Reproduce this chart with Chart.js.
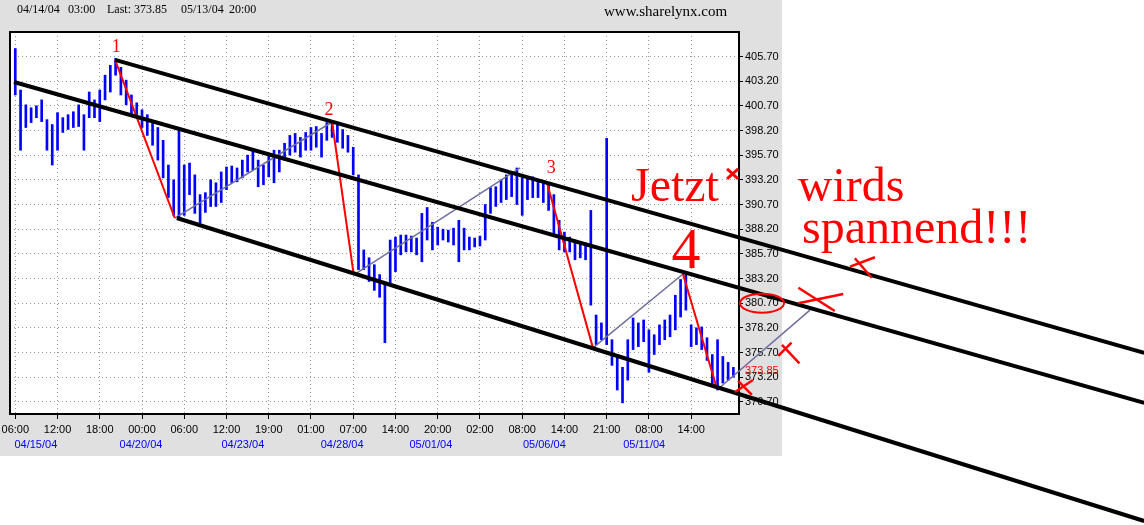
<!DOCTYPE html>
<html lang="de">
<head>
<meta charset="UTF-8">
<title>Jetzt wirds spannend</title>
<style>
  body { margin: 0; background: #fff; }
  #wrap { width: 1144px; height: 525px; }
</style>
</head>
<body>
<div id="wrap"><canvas id="chart" width="1144" height="525"></canvas></div>
<script src="https://cdn.jsdelivr.net/npm/chart.js"></script>
<script>
// x = bar number (one bar per slot, a time tick every 8 bars)
const timeLabels = ['06:00','12:00','18:00','00:00','06:00','12:00','19:00','01:00','07:00',
                    '14:00','20:00','02:00','08:00','14:00','21:00','08:00','14:00'];
const timeTickPos = [0,8,16,24,32,40,48,56,64,72,80,88,96,104,112,120,128];
const dateLabels = ['04/15/04','04/20/04','04/23/04','04/28/04','05/01/04','05/06/04','05/11/04'];
const datePos = [3.9, 23.8, 43.1, 61.9, 78.7, 100.2, 119.1];
const priceTicks = [370.7,373.2,375.7,378.2,380.7,383.2,385.7,388.2,390.7,393.2,395.7,398.2,400.7,403.2,405.7];
const lastPrice = 373.85;

const highs = [
  406.5,402.3,400.8,400.5,400.7,401.3,399.3,398.8,400.0,399.5,
  399.8,400.1,400.8,399.8,402.1,401.3,402.3,403.8,404.8,405.5,
  404.6,403.3,401.8,401.0,400.3,399.8,399.0,398.5,397.2,394.7,
  393.2,398.3,394.7,394.9,393.7,391.7,391.9,393.2,392.9,394.0,
  394.5,394.6,394.4,395.2,395.7,396.2,395.2,394.7,395.7,396.2,
  396.2,396.9,397.7,397.9,397.5,398.0,398.5,398.6,397.9,399.0,
  399.2,398.8,398.3,397.7,396.5,393.7,386.1,385.3,384.6,383.6,
  382.7,387.1,387.4,387.6,387.6,387.5,387.3,389.8,390.4,388.9,
  388.4,388.2,388.1,388.3,389.1,388.3,387.4,387.3,387.5,390.7,
  392.4,392.5,393.2,393.7,394.0,394.4,393.4,393.4,393.5,393.0,
  392.9,392.9,391.7,389.1,387.9,387.4,387.1,386.9,386.8,390.1,
  379.5,378.7,397.4,377.0,375.5,374.2,377.0,379.2,378.7,379.0,
  378.0,377.5,378.5,379.0,379.5,381.5,383.1,383.8,378.5,378.2,
  378.3,377.2,375.5,377.0,375.3,374.7,374.2
];
const lows = [
  401.8,396.2,398.5,399.0,399.5,399.1,396.2,394.7,396.2,398.0,
  398.3,398.5,398.6,396.2,399.5,399.5,399.1,401.3,402.1,403.8,
  401.8,400.8,399.8,399.5,398.5,397.7,396.7,395.2,393.4,391.4,
  389.6,389.3,389.6,391.7,389.8,388.8,389.9,390.5,390.5,390.9,
  392.2,392.9,393.0,393.4,394.0,394.2,392.5,392.7,393.5,392.9,
  394.0,395.2,395.7,396.0,395.5,396.2,396.2,396.5,395.5,397.2,
  397.5,397.0,396.4,396.0,393.7,384.1,384.1,382.9,382.0,381.3,
  376.7,382.5,383.9,385.6,385.9,385.9,385.6,384.9,387.1,386.1,
  386.6,387.1,386.9,386.6,384.9,386.1,386.1,386.4,386.5,387.1,
  389.8,390.5,390.9,391.2,391.5,390.7,389.6,391.2,391.4,391.4,
  390.9,390.1,387.6,386.1,385.9,385.9,385.1,385.3,385.1,380.5,
  376.5,377.0,376.5,374.4,371.9,370.6,372.9,376.0,376.3,376.8,
  373.7,375.5,376.5,377.0,377.3,378.0,379.3,380.0,376.3,376.5,
  376.0,374.9,372.4,371.9,372.6,372.9,373.2
];

// hand drawn trend channel
const channelTop = [[18.9, 405.35], [213.8, 375.66]];
const channelMid = [[-0.25, 403.11], [213.8, 370.59]];
const channelLow = [[30.6, 389.33], [213.8, 358.63]];

// red down legs and grey up legs
const legsDown = [
  [[18.9, 405.35], [30.2, 389.33]],
  [[60.0, 399.06], [64.1, 383.56]],
  [[100.7, 392.88], [109.4, 376.17]],
  [[126.45, 383.66], [132.9, 372.01]]
];
const legsUp = [
  [[30.2, 389.33], [60.0, 399.06]],
  [[64.7, 383.76], [95.6, 394.4]],
  [[109.4, 376.17], [126.45, 383.66]],
  [[133.1, 372.0], [150.5, 380.0]]
];

// red crosses, two strokes each
const crosses = [
  [[134.8, 394.3], [136.9, 393.3]], [[134.8, 393.3], [136.9, 394.3]],
  [[158.1, 384.4], [162.8, 385.35]], [[159.0, 385.25], [162.2, 383.28]],
  [[148.3, 380.69], [156.8, 381.63]], [[148.3, 382.27], [155.2, 379.91]],
  [[144.5, 375.35], [147.0, 376.7]], [[145.2, 376.47], [148.5, 374.6]],
  [[136.3, 371.7], [139.7, 372.92]], [[136.9, 372.82], [139.5, 371.4]]
];
const redDot = [74.0, 409.4];

const waveNames = ['1', '2', '3', '4'];
const waveNameX = [19.1, 59.4, 101.5, 127.0];
const waveNameY = [406.15, 399.77, 393.89, 384.27];
const noteText = ['Jetzt', 'wirds', 'spannend!!!'];
const noteX = [116.6, 148.2, 149.0];
const noteY = [391.06, 391.06, 386.8];
const circledTick = 380.7;

const headerParts = ['04/14/04', '03:00', 'Last: 373.85', '05/13/04', '20:00'];
const headerX = [17, 68, 107, 181, 229];

const pts = arr => arr.map(p => ({x: p[0], y: p[1]}));
const seg = (arr, color, width, order) => ({
    type: 'line', data: pts(arr), borderColor: color, borderWidth: width,
    pointRadius: 0, tension: 0, fill: false, clip: false, order: order
});

const datasets = [];
datasets.push({
    type: 'bar',
    data: highs.map((h, i) => ({x: i, y: [lows[i], h]})),
    backgroundColor: '#0000ff',
    barThickness: 2,
    borderWidth: 0,
    order: 10
});
legsUp.forEach(l => datasets.push(seg(l, '#6e6e9e', 1.5, 7)));
legsDown.forEach(l => datasets.push(seg(l, '#ff0000', 2, 6)));
[channelTop, channelMid, channelLow].forEach(l => datasets.push(seg(l, '#000000', 4, 5)));
crosses.forEach((l, i) => datasets.push(seg(l, '#ff0000', i < 2 ? 3 : 2.5, 1)));
datasets.push({
    type: 'line', data: [{x: redDot[0], y: redDot[1]}], showLine: false,
    pointRadius: 1.5, pointStyle: 'rect', backgroundColor: '#ff0000', borderWidth: 0,
    clip: false, order: 1
});

const paper = {
    id: 'paper',
    beforeDraw(chart) {
        const {ctx, chartArea: a, scales} = chart;
        ctx.save();
        ctx.fillStyle = '#ffffff';
        ctx.fillRect(0, 0, chart.width, chart.height);
        ctx.fillStyle = '#e0e0e0';
        ctx.fillRect(0, 0, scales.y.right, scales.x2.bottom);
        ctx.fillStyle = '#ffffff';
        ctx.fillRect(a.left, a.top, a.width, a.height);
        ctx.fillStyle = '#000';
        ctx.font = '12px "Liberation Serif"';
        headerParts.forEach((t, i) => ctx.fillText(t, headerX[i], 13));
        ctx.font = '15px "Liberation Serif"';
        ctx.fillText('www.sharelynx.com', 604, 16);
        ctx.restore();
    },
    beforeDatasetsDraw(chart) {
        const {ctx, chartArea: a} = chart;
        ctx.save();
        ctx.strokeStyle = '#000';
        ctx.lineWidth = 2;
        ctx.strokeRect(a.left, a.top, a.width, a.height);
        ctx.restore();
    },
    afterDatasetsDraw(chart) {
        const {ctx, chartArea: a, scales: {x, y}} = chart;
        ctx.save();
        ctx.fillStyle = '#ff0000';
        ctx.textAlign = 'center';
        ctx.textBaseline = 'alphabetic';
        waveNames.forEach((t, i) => {
            ctx.font = (i === 3 ? '58px' : '18px') + ' "Liberation Serif"';
            ctx.fillText(t, x.getPixelForValue(waveNameX[i]), y.getPixelForValue(waveNameY[i]));
        });
        ctx.textAlign = 'left';
        ctx.font = '48px "Liberation Serif"';
        noteText.forEach((t, i) => ctx.fillText(t, x.getPixelForValue(noteX[i]), y.getPixelForValue(noteY[i])));

        // last price on the axis
        ctx.font = '11px "Liberation Sans"';
        ctx.textBaseline = 'middle';
        ctx.fillText(lastPrice.toFixed(2), a.right + 6, y.getPixelForValue(lastPrice));

        // ring round the 380.70 label
        ctx.strokeStyle = '#ff0000';
        ctx.lineWidth = 2;
        ctx.beginPath();
        ctx.ellipse(a.right + 23, y.getPixelForValue(circledTick), 22, 9.5, 0, 0, Math.PI * 2);
        ctx.stroke();
        ctx.restore();
    }
};

Chart.defaults.font.family = '"Liberation Sans", Arial, sans-serif';
Chart.defaults.font.size = 11;
Chart.defaults.color = '#000';

new Chart(document.getElementById('chart'), {
    type: 'bar',
    data: {datasets: datasets},
    options: {
        responsive: false,
        animation: false,
        events: [],
        layout: {padding: {left: 10, top: 32, right: 362, bottom: 69}},
        plugins: {legend: {display: false}, tooltip: {enabled: false}},
        scales: {
            x: {
                type: 'linear', position: 'bottom', min: -1.0, max: 137.06, offset: false,
                afterBuildTicks: s => { s.ticks = timeTickPos.map(v => ({value: v})); },
                afterFit: s => { s.height = 22; s.paddingLeft = 0; s.paddingRight = 0; },
                ticks: {
                    autoSkip: false, maxRotation: 0, padding: 4,
                    callback: (v, i) => timeLabels[i]
                },
                grid: {color: '#999', tickColor: '#000', tickLength: 5, offset: false},
                border: {display: false, dash: [1, 3]}
            },
            x2: {
                type: 'linear', position: 'bottom', min: -1.0, max: 137.06, offset: false,
                afterBuildTicks: s => { s.ticks = datePos.map(v => ({value: v})); },
                afterFit: s => { s.height = 20; s.paddingLeft = 0; s.paddingRight = 0; },
                ticks: {
                    autoSkip: false, maxRotation: 0, padding: 2, color: '#0000ff',
                    callback: (v, i) => dateLabels[i]
                },
                grid: {display: false, drawTicks: false, offset: false},
                border: {display: false}
            },
            y: {
                type: 'linear', position: 'right', min: 369.47, max: 408.18,
                afterBuildTicks: s => { s.ticks = priceTicks.map(v => ({value: v})); },
                afterFit: s => { s.width = 43; },
                ticks: {padding: 2, callback: v => v.toFixed(2)},
                grid: {color: '#999', tickColor: '#000', tickLength: 4},
                border: {display: false, dash: [1, 3]}
            }
        }
    },
    plugins: [paper]
});
</script>
</body>
</html>
